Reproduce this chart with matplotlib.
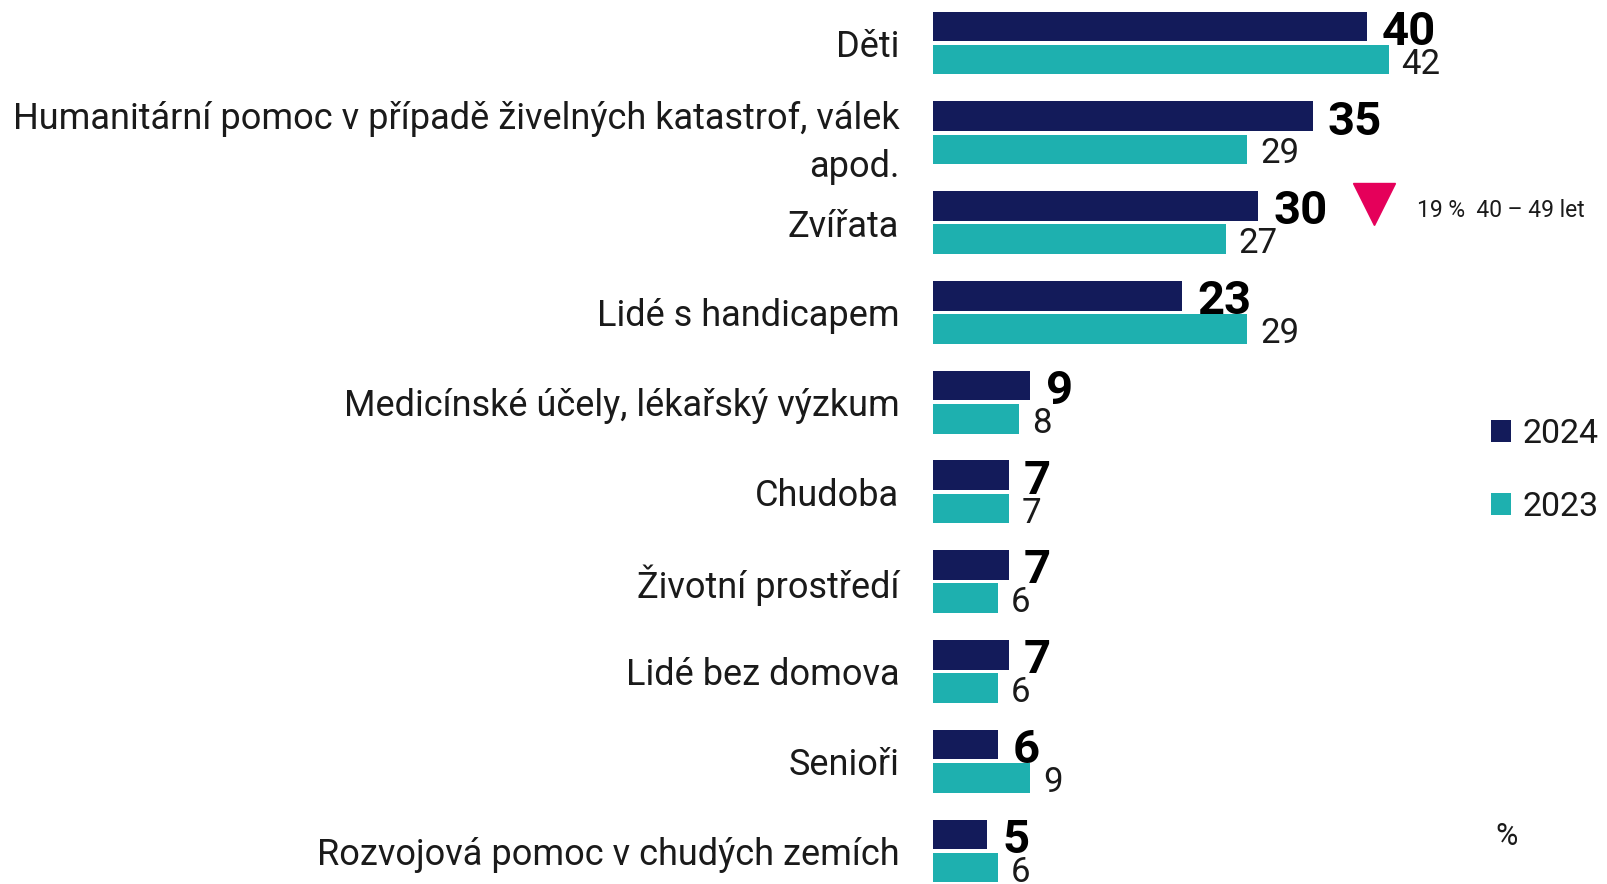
import matplotlib.pyplot as plt
from matplotlib.patches import Patch
import numpy as np

plt.rcParams['font.family'] = ['Roboto', 'DejaVu Sans']

# data
categories = ['Děti',
              'Humanitární pomoc v případě živelných katastrof, válek\napod.',
              'Zvířata',
              'Lidé s handicapem',
              'Medicínské účely, lékařský výzkum',
              'Chudoba',
              'Životní prostředí',
              'Lidé bez domova',
              'Senioři',
              'Rozvojová pomoc v chudých zemích']
values_2024 = [40, 35, 30, 23, 9, 7, 7, 7, 6, 5]
values_2023 = [42, 29, 27, 29, 8, 7, 6, 6, 9, 6]
series_names = ['2024', '2023']

note_row = 2
note_text = '19 %  40 – 49 let'

navy = '#131b5a'
teal = '#1eb0af'
txt = '#1a1a1a'

fig = plt.figure(figsize=(16.08, 8.84), dpi=100)
ax = fig.add_axes([0.580, 0.0, 0.405, 1.0])

y = np.arange(len(categories))
h = 0.33
off = 0.185
ax.barh(y - off, values_2024, height=h, color=navy)
ax.barh(y + off, values_2023, height=h, color=teal)

for i in range(len(categories)):
    ax.text(values_2024[i] + 1.4, y[i] - off + 0.06, str(values_2024[i]),
            fontsize=34, fontweight='bold', color='black', va='center', ha='left')
    ax.text(values_2023[i] + 1.2, y[i] + off + 0.05, str(values_2023[i]),
            fontsize=25, color=txt, va='center', ha='left')

ax.set_xlim(0, 60)
ax.set_ylim(9.367, -0.479)
ax.set_yticks(y)
ax.set_yticklabels(categories, fontsize=26, color=txt, linespacing=1.45)
ax.tick_params(axis='y', length=0, pad=24)
ax.set_xticks([])
for s in ax.spines.values():
    s.set_visible(False)

# annotation: triangle + note
ax.plot(40.7, note_row - 0.21, marker='v', markersize=30, color='#e5005a', linestyle='none')
ax.text(44.6, note_row - 0.14, note_text, fontsize=16.5, color=txt, va='center', ha='left')

# legend
handles = [Patch(facecolor=navy), Patch(facecolor=teal)]
fig.legend(handles, series_names, loc='center left', bbox_to_anchor=(0.9165, 0.468),
           frameon=False, fontsize=24.5, handlelength=0.6, handleheight=0.6,
           handletextpad=0.33, labelspacing=1.2, borderpad=0, labelcolor=txt)

fig.text(0.937, 0.054, '%', fontsize=22, color=txt, ha='center', va='center')

fig.savefig('out.png', dpi=100)
